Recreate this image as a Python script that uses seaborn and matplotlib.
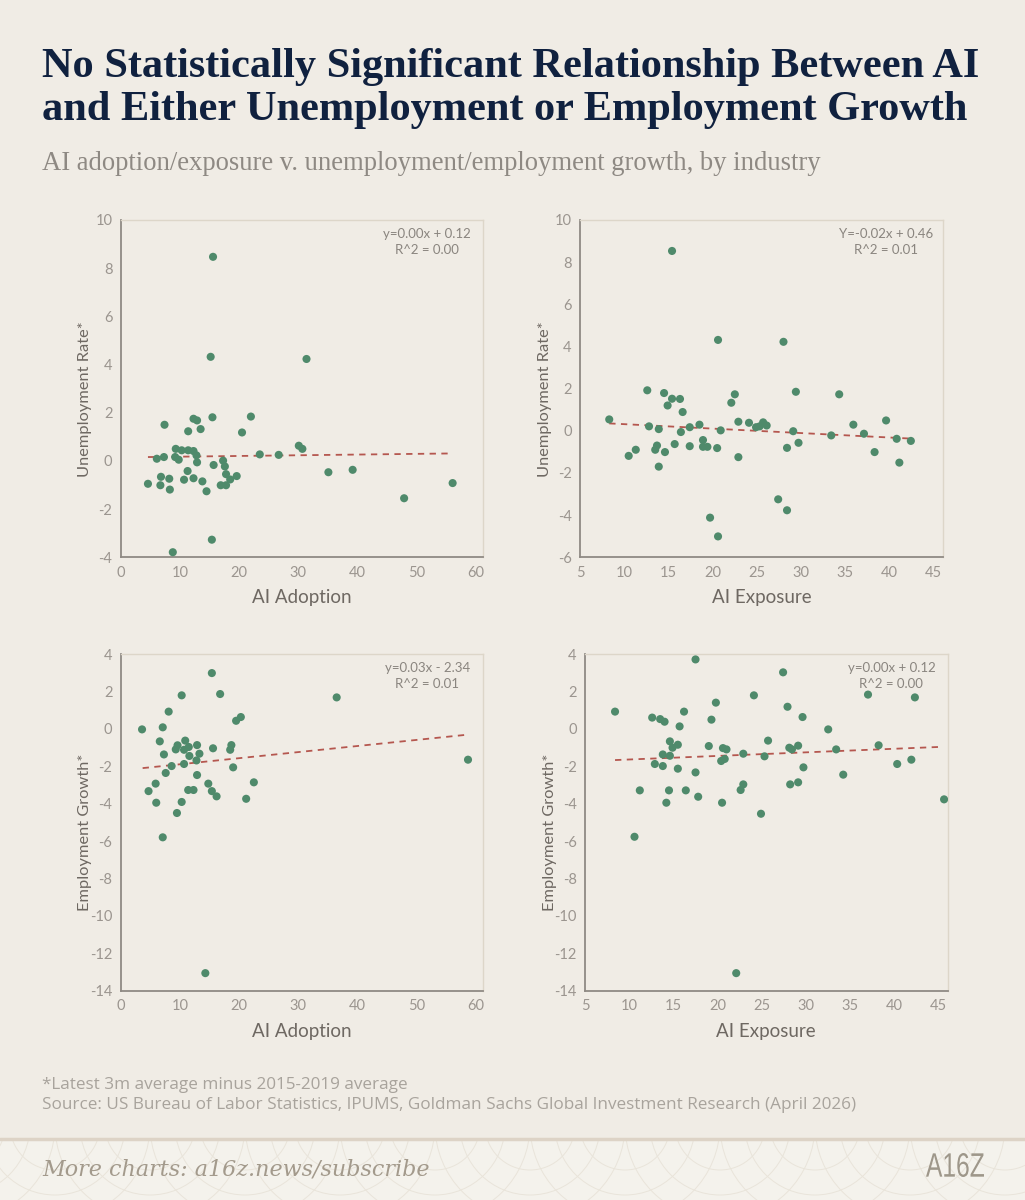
import matplotlib
matplotlib.use("Agg")
import matplotlib.pyplot as plt
from matplotlib.patches import Arc, PathPatch
from matplotlib.textpath import TextPath
from matplotlib.font_manager import FontProperties
from matplotlib.transforms import Affine2D
import seaborn as sns
import pandas as pd

# --- data ---
# top left: AI adoption v. unemployment rate
adopt_unemp_x = [15.6, 15.2, 31.4, 7.4, 12.3, 12.9, 15.5, 22.0, 11.4, 13.5, 20.5, 30.1, 30.7,
                 9.3, 10.3, 11.4, 12.3, 12.8, 9.2, 9.8, 6.1, 7.3, 23.5, 26.7, 12.9, 17.3,
                 15.7, 17.6, 11.3, 35.1, 39.2, 17.8, 19.6, 18.5, 6.8, 8.2, 10.7, 12.3, 13.8,
                 4.6, 6.7, 16.9, 17.8, 56.1, 8.3, 14.5, 47.9, 15.4, 8.8]
adopt_unemp_y = [8.47, 4.32, 4.23, 1.50, 1.75, 1.68, 1.81, 1.84, 1.23, 1.32, 1.18, 0.63, 0.50,
                 0.50, 0.44, 0.44, 0.41, 0.23, 0.16, 0.05, 0.09, 0.16, 0.27, 0.25, -0.06, 0.01,
                 -0.17, -0.23, -0.42, -0.47, -0.37, -0.55, -0.63, -0.77, -0.66, -0.74, -0.78,
                 -0.72, -0.85, -0.95, -1.01, -1.01, -1.01, -0.92, -1.19, -1.26, -1.55, -3.27, -3.79]

# top right: AI exposure v. unemployment rate
expo_unemp_x = [15.4, 20.6, 28.0, 12.6, 14.5, 15.4, 16.3, 14.9, 22.5, 22.1, 29.4, 34.3, 16.6,
                8.3, 12.8, 13.9, 16.4, 17.4, 18.5, 20.9, 22.9, 24.1, 24.9, 25.3, 25.7, 26.1,
                29.1, 33.4, 35.9, 37.1, 39.6, 40.8, 42.4, 29.7, 28.4, 38.3, 41.1, 15.7, 17.4,
                18.9, 18.9, 19.4, 20.5, 13.7, 13.5, 11.3, 10.5, 14.6, 13.9, 22.9, 27.4, 28.4,
                19.7, 20.6]
expo_unemp_y = [8.53, 4.31, 4.22, 1.92, 1.79, 1.52, 1.51, 1.20, 1.73, 1.33, 1.85, 1.73, 0.89,
                0.54, 0.21, 0.08, -0.06, 0.17, 0.29, 0.02, 0.43, 0.38, 0.17, 0.21, 0.40, 0.25,
                -0.02, -0.22, 0.29, -0.14, 0.49, -0.38, -0.48, -0.57, -0.81, -1.01, -1.51,
                -0.63, -0.73, -0.44, -0.76, -0.76, -0.82, -0.70, -0.90, -0.90, -1.19, -1.01,
                -1.70, -1.25, -3.25, -3.77, -4.12, -5.01]

# bottom left: AI adoption v. employment growth
adopt_emp_x = [15.4, 10.3, 16.8, 36.5, 8.1, 19.5, 20.3, 3.6, 7.1, 6.6, 10.9, 9.6, 9.3, 10.7,
               11.5, 12.9, 13.3, 11.6, 15.6, 18.7, 18.5, 7.3, 12.8, 10.7, 58.7, 8.6, 19.0,
               7.6, 12.9, 5.9, 14.8, 22.5, 4.7, 11.4, 12.3, 15.4, 16.2, 21.2, 6.0, 10.3, 9.5,
               7.1, 14.3]
adopt_emp_y = [2.98, 1.79, 1.86, 1.68, 0.92, 0.43, 0.63, -0.03, 0.08, -0.67, -0.63, -0.88,
               -1.10, -1.12, -0.97, -0.87, -1.33, -1.45, -1.04, -0.87, -1.12, -1.37, -1.69,
               -1.88, -1.65, -1.99, -2.06, -2.36, -2.47, -2.93, -2.93, -2.86, -3.33, -3.27,
               -3.27, -3.33, -3.61, -3.74, -3.95, -3.91, -4.50, -5.80, -13.06]

# bottom right: AI exposure v. employment growth
expo_emp_x = [17.5, 27.4, 24.1, 37.0, 42.3, 19.8, 27.9, 8.4, 16.2, 12.6, 13.5, 14.0, 19.3, 29.6,
              15.7, 32.5, 14.6, 25.7, 15.5, 14.9, 19.0, 20.6, 21.0, 28.1, 28.4, 29.1, 33.4,
              38.2, 13.8, 14.6, 22.9, 25.3, 20.4, 20.8, 12.9, 13.8, 15.5, 40.3, 41.9, 29.7,
              17.5, 34.2, 22.9, 22.6, 28.2, 29.1, 11.2, 14.5, 16.4, 17.8, 14.2, 20.5, 45.6,
              24.9, 10.6, 22.1]
expo_emp_y = [3.71, 3.02, 1.79, 1.83, 1.68, 1.40, 1.18, 0.92, 0.92, 0.60, 0.52, 0.38, 0.49,
              0.63, 0.13, -0.03, -0.67, -0.63, -0.85, -1.01, -0.92, -1.03, -1.10, -1.01,
              -1.10, -0.90, -1.10, -0.88, -1.37, -1.44, -1.33, -1.47, -1.72, -1.61, -1.88,
              -1.99, -2.13, -1.88, -1.65, -2.06, -2.33, -2.45, -2.97, -3.27, -2.97, -2.86,
              -3.29, -3.29, -3.29, -3.63, -3.95, -3.95, -3.77, -4.54, -5.77, -13.06]

# dashed trend lines as drawn (end points)
trend_x = [[4.6, 56.1], [8.3, 42.4], [3.7, 58.7], [8.4, 45.5]]
trend_y = [[0.16, 0.31], [0.35, -0.37], [-2.10, -0.31], [-1.67, -0.96]]

equations = ["y=0.00x + 0.12\nR^2 = 0.00", "Y=-0.02x + 0.46\nR^2 = 0.01",
             "y=0.03x - 2.34\nR^2 = 0.01", "y=0.00x + 0.12\nR^2 = 0.00"]
x_labels = ["AI Adoption", "AI Exposure", "AI Adoption", "AI Exposure"]
y_labels = ["Unemployment Rate*", "Unemployment Rate*", "Employment Growth*", "Employment Growth*"]

title = "No Statistically Significant Relationship Between AI\nand Either Unemployment or Employment Growth"
subtitle = "AI adoption/exposure v. unemployment/employment growth, by industry"
note = "*Latest 3m average minus 2015-2019 average"
source = "Source: US Bureau of Labor Statistics, IPUMS, Goldman Sachs Global Investment Research (April 2026)"

# --- style ---
BG = "#f0ece5"
GREEN = "#4f8a6b"
RED = "#b5574f"
NAVY = "#10213f"
SERIF = ["Liberation Serif", "DejaVu Serif"]

sns.set_theme(style="white")
plt.rcParams["font.family"] = ["Lato", "DejaVu Sans"]
plt.rcParams["axes.unicode_minus"] = False

fig = plt.figure(figsize=(10.25, 12), dpi=100, facecolor=BG)

positions = [
    [0.1178, 0.5356, 0.3538, 0.2811],
    [0.5659, 0.5356, 0.3538, 0.2811],
    [0.1178, 0.1744, 0.3538, 0.2806],
    [0.5707, 0.1744, 0.3538, 0.2806],
]
xlims = [(0, 61.3), (5, 46), (0, 61.3), (5, 46)]
xticks = [range(0, 61, 10), range(5, 46, 5), range(0, 61, 10), range(5, 46, 5)]
ylims = [(-4, 10), (-6, 10), (-14, 4), (-14, 4)]
yticks = [range(-4, 11, 2), range(-6, 11, 2), range(-14, 5, 2), range(-14, 5, 2)]

series = [
    (adopt_unemp_x, adopt_unemp_y),
    (expo_unemp_x, expo_unemp_y),
    (adopt_emp_x, adopt_emp_y),
    (expo_emp_x, expo_emp_y),
]

for i, (xs, ys) in enumerate(series):
    ax = fig.add_axes(positions[i])
    ax.set_facecolor(BG)
    df = pd.DataFrame({"x": xs, "y": ys})
    sns.scatterplot(data=df, x="x", y="y", ax=ax, color=GREEN, s=34,
                    edgecolor="none", zorder=3)
    ax.plot(trend_x[i], trend_y[i], linestyle=(0, (3.5, 3)), color=RED,
            linewidth=1.3, zorder=2)

    ax.set_xlim(*xlims[i])
    ax.set_ylim(*ylims[i])
    ax.set_xticks(list(xticks[i]))
    ax.set_yticks(list(yticks[i]))
    ax.tick_params(axis="both", length=0, labelsize=10.5, labelcolor="#9b958f", pad=6)

    for side in ["left", "bottom"]:
        ax.spines[side].set_color("#8f8a84")
        ax.spines[side].set_linewidth(1.3)
    for side in ["top", "right"]:
        ax.spines[side].set_color("#ddd6c9")
        ax.spines[side].set_linewidth(1.0)

    ax.set_xlabel(x_labels[i], fontsize=13.5, color="#6e6862", labelpad=7)
    ax.set_ylabel(y_labels[i], fontsize=11.8, color="#6e6862")
    ax.yaxis.set_label_coords(-0.078, 0.47)

    ax.text(0.845, 0.975, equations[i], transform=ax.transAxes, ha="center", va="top",
            fontsize=9.5, color="#8a857f", linespacing=1.35)

# --- titles ---
fig.text(42 / 1025, 1 - 48 / 1200, title, ha="left", va="top", fontsize=30.5,
         fontweight="bold", color=NAVY, family=SERIF, linespacing=1.18)
fig.text(42 / 1025, 1 - 151 / 1200, subtitle, ha="left", va="top", fontsize=19.2,
         color="#8e8983", family=SERIF)

# --- footnotes ---
fig.text(42 / 1025, 1 - 1085 / 1200, note, ha="left", va="center", fontsize=12.3,
         color="#a8a39c", family=["Open Sans", "DejaVu Sans"])
fig.text(42 / 1025, 1 - 1105 / 1200, source, ha="left", va="center", fontsize=12.3,
         color="#a8a39c", family=["Open Sans", "DejaVu Sans"])

# --- footer band ---
band = fig.add_axes([0, 0, 1, 61 / 1200])
band.set_facecolor("#f4f2ec")
band.set_xlim(0, 1025)
band.set_ylim(0, 61)
band.set_xticks([])
band.set_yticks([])
for side in band.spines:
    band.spines[side].set_visible(False)
# faint decorative arcs like the reference pattern
for cx in range(-40, 1100, 95):
    for r in (45, 70, 95):
        band.add_patch(Arc((cx, 75), 2 * r, 2 * r, theta1=180, theta2=360,
                           color="#e9e4da", linewidth=0.7))
fig.add_artist(plt.Line2D([0, 1], [61 / 1200, 61 / 1200], color="#ddd3c6", linewidth=2.5))
fig.text(42 / 1025, 1 - 1170 / 1200, "More charts: a16z.news/subscribe", ha="left",
         va="center", fontsize=16, style="italic", color="#a39a8c",
         family=["DejaVu Serif"])

# condensed "A16Z" wordmark, squeezed into the logo box
logo = TextPath((0, 0), "A16Z", size=1, prop=FontProperties(family="Liberation Sans"))
ext = logo.get_extents()
sx = 58 / ext.width
sy = 24 / ext.height
logo = Affine2D().translate(-ext.x0, -ext.y0).scale(sx, sy).translate(926, 23).transform_path(logo)
band.add_patch(PathPatch(logo, facecolor="#9e978a", edgecolor="none"))

fig.savefig("out.png", dpi=100, facecolor=BG)
